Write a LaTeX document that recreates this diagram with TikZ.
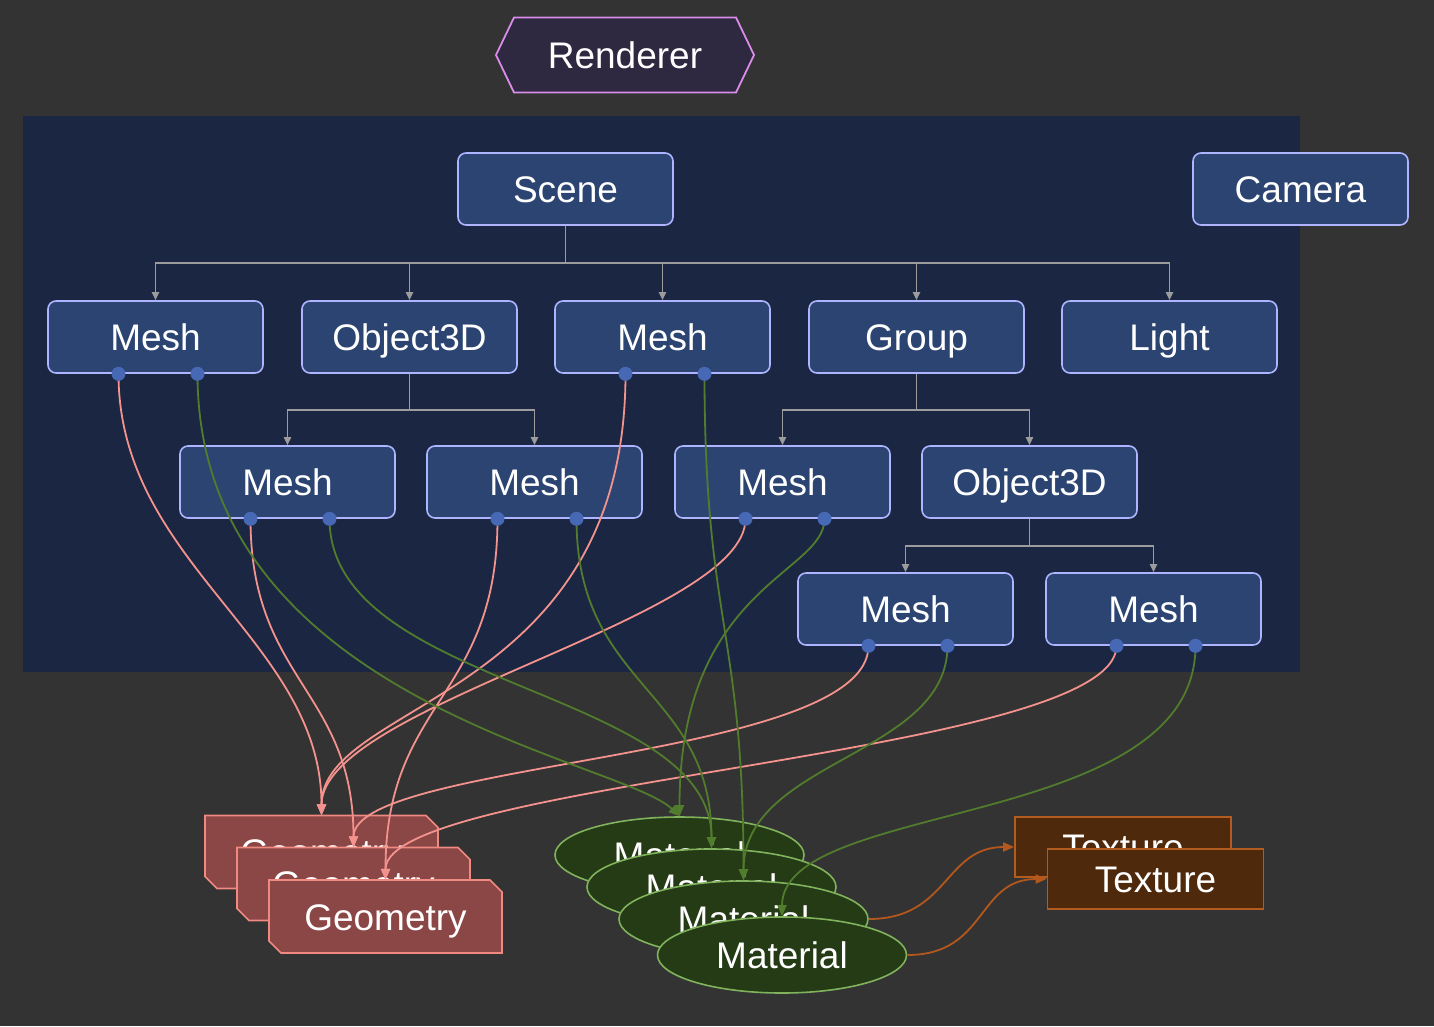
\documentclass[tikz,border=0pt]{standalone}
\usepackage{fontspec}
\setmainfont{Liberation Sans}
\usetikzlibrary{shapes.geometric,arrows.meta}
\definecolor{bg}{HTML}{333333}
\definecolor{clusterfill}{HTML}{1B2742}
\definecolor{boxfill}{HTML}{2B4471}
\definecolor{boxline}{HTML}{AEB4FF}
\definecolor{rendfill}{HTML}{2E2840}
\definecolor{rendline}{HTML}{D98DE8}
\definecolor{dotfill}{HTML}{4769B5}
\definecolor{treeline}{HTML}{9C9C9C}
\definecolor{pinkline}{HTML}{F4938E}
\definecolor{greenline}{HTML}{527C2D}
\definecolor{geofill}{HTML}{8B4646}
\definecolor{geoline}{HTML}{F08A80}
\definecolor{matfill}{HTML}{243B16}
\definecolor{matline}{HTML}{80B35C}
\definecolor{texfill}{HTML}{4F290C}
\definecolor{texline}{HTML}{B35C20}
\definecolor{orangeline}{HTML}{B4571C}
\newcommand\geobox[3]{%
  \begin{scope}[shift={(#2,#3)}]
    \filldraw[geo] (-116.5,-36.5) -- (104.5,-36.5) -- (116.5,-24.5) -- (116.5,36.5)
      -- (-104.5,36.5) -- (-116.5,24.5) -- cycle;
    \node[geotext] (#1) at (0,0) {Geometry};
  \end{scope}}
\begin{document}
\begin{tikzpicture}[x=1pt,y=-1pt,
  lbl/.style={text=white, font=\fontsize{37}{42}\selectfont, text height=30pt, text depth=3pt},
  box/.style={lbl, draw=boxline, fill=boxfill, rounded corners=8pt, line width=1.6pt,
    minimum width=215pt, minimum height=72pt, inner sep=0pt},
  geo/.style={fill=geofill, draw=geoline, line width=1.6pt},
  geotext/.style={lbl, minimum width=233pt, minimum height=73pt, inner sep=0pt},
  mat/.style={lbl, ellipse, draw=matline, fill=matfill, line width=1.6pt,
    minimum width=249pt, minimum height=76pt, inner sep=0pt},
  tex/.style={lbl, draw=texline, fill=texfill, line width=1.6pt,
    minimum width=216pt, minimum height=60pt, inner sep=0pt},
  tree/.style={draw=treeline, line width=1.8pt, -{Triangle[length=8pt,width=7pt]}},
  pinkedge/.style={draw=pinkline, line width=1.8pt, -{Triangle[length=11pt,width=9pt]}},
  greenedge/.style={draw=greenline, line width=1.8pt, -{Triangle[length=11pt,width=9pt]}},
  orangeedge/.style={draw=orangeline, line width=1.8pt, -{Triangle[length=11pt,width=9pt]}},
  dot/.style={fill=dotfill}
]
\useasboundingbox (0,0) rectangle (1434,1026);
\fill[bg] (0,0) rectangle (1434,1026);
% cluster
\fill[clusterfill] (23,116) rectangle (1300,672);
% renderer
\filldraw[fill=rendfill, draw=rendline, line width=1.8pt]
  (514,17.5) -- (736,17.5) -- (754,55) -- (736,92.5) -- (514,92.5) -- (496,55) -- cycle;
\node[lbl, minimum width=258pt, minimum height=75pt, inner sep=0pt] (renderer) at (625,55) {Renderer};
% tree nodes
\node[box] (scene) at (565.5,189) {Scene};
\node[box] (camera) at (1300.5,189) {Camera};
\node[box] (ma) at (155.5,337) {Mesh};
\node[box] (obja) at (409.5,337) {Object3D};
\node[box] (mb) at (662.5,337) {Mesh};
\node[box] (group) at (916.5,337) {Group};
\node[box] (light) at (1169.5,337) {Light};
\node[box] (mc) at (287.5,482) {Mesh};
\node[box] (md) at (534.5,482) {Mesh};
\node[box] (me) at (782.5,482) {Mesh};
\node[box] (objb) at (1029.5,482) {Object3D};
\node[box] (mf) at (905.5,609) {Mesh};
\node[box] (mg) at (1153.5,609) {Mesh};
% tree connectors
\coordinate (js) at (565.5,263);
\coordinate (jo) at (409.5,410);
\coordinate (jg) at (916.5,410);
\coordinate (jb) at (1029.5,546);
\foreach \t in {ma,obja,mb,group,light} \draw[tree] (scene.south) -- (js) -| (\t.north);
\foreach \t in {mc,md} \draw[tree] (obja.south) -- (jo) -| (\t.north);
\foreach \t in {me,objb} \draw[tree] (group.south) -- (jg) -| (\t.north);
\foreach \t in {mf,mg} \draw[tree] (objb.south) -- (jb) -| (\t.north);
% geometry, material, texture
\geobox{geoa}{321.5}{852}
\geobox{geob}{353.5}{884}
\geobox{geoc}{385.5}{916.5}
\node[mat] (mata) at (679.5,855) {Material};
\node[mat] (matb) at (711.5,887) {Material};
\node[mat] (matc) at (743.5,919) {Material};
\node[mat] (matd) at (782,955) {Material};
\node[tex] (texa) at (1123,847) {Texture};
\node[tex] (texb) at (1155.5,879) {Texture};
% ports
\foreach \n in {ma,mb,mc,md,me,mf,mg} {
  \coordinate (\n-g) at ([xshift=-37pt]\n.south);
  \coordinate (\n-m) at ([xshift=42pt]\n.south);
}
% geometry edges
\draw[pinkedge] (ma-g) .. controls +(0,190) and +(0,-175) .. (geoa.north);
\draw[pinkedge] (mb-g) .. controls +(0,327) and +(0,-115) .. (geoa.north);
\draw[pinkedge] (me-g) .. controls +(0,100) and +(0,-110) .. (geoa.north);
\draw[pinkedge] (mc-g) .. controls +(0,162) and +(0,-157) .. (geob.north);
\draw[pinkedge] (mf-g) .. controls +(0,115) and +(0,-87) .. (geob.north);
\draw[pinkedge] (md-g) .. controls +(0,180) and +(0,-180) .. (geoc.north);
\draw[pinkedge] (mg-g) .. controls +(0,110) and +(0,-100) .. (geoc.north);
% material edges
\draw[greenedge] (ma-m) .. controls +(0,327) and +(-59.5,-57) .. (mata.north);
\draw[greenedge] (me-m) .. controls +(0,55) and +(0,-230) .. (mata.north);
\draw[greenedge] (mb-m) .. controls +(0,250) and +(0,-250) .. (matc.north);
\draw[greenedge] (mc-m) .. controls +(0,170) and +(0,-160) .. (matb.north);
\draw[greenedge] (md-m) .. controls +(0,170) and +(0,-160) .. (matb.north);
\draw[greenedge] (mf-m) .. controls +(0,110) and +(0,-120) .. (matc.north);
\draw[greenedge] (mg-m) .. controls +(0,185) and +(0,-117) .. (matd.north);
% texture edges
\draw[orangeedge] (matc.east) .. controls +(80,0) and +(-70,0) .. (texa.west);
\draw[orangeedge] (matd.east) .. controls +(80,0) and +(-70,0) .. (texb.west);
% port dots
\foreach \n in {ma,mb,mc,md,me,mf,mg} {
  \fill[dot] (\n-g) circle (7pt);
  \fill[dot] (\n-m) circle (7pt);
}
\end{tikzpicture}
\end{document}
